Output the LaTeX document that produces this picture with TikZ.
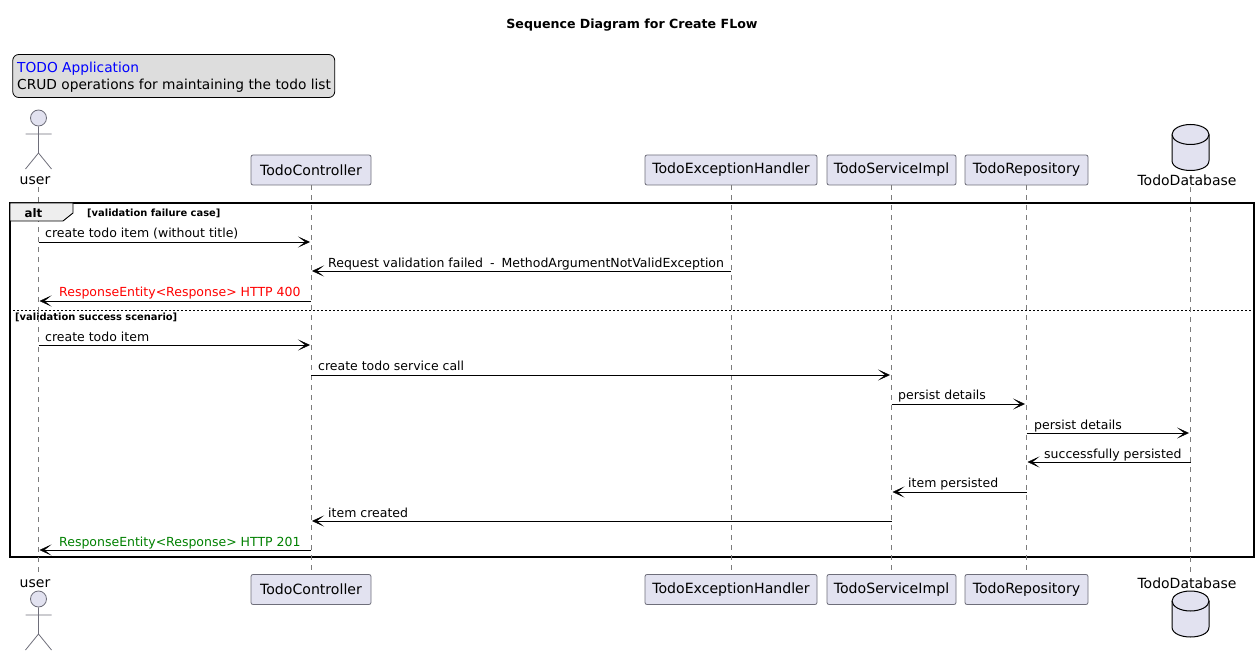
\documentclass[tikz,border=0pt]{standalone}
\usepackage{fontspec}
\setmainfont{DejaVu Sans}
\usetikzlibrary{positioning, arrows.meta, shapes.geometric}
\definecolor{partfill}{HTML}{E2E2F0}
\definecolor{partline}{HTML}{6E6E7A}
\definecolor{lifegray}{HTML}{7C7C7C}
\definecolor{legendfill}{HTML}{DDDDDD}
\definecolor{tabfill}{HTML}{EEEEEE}
\definecolor{okgreen}{HTML}{008000}
\tikzset{
  participant/.style={draw=partline, fill=partfill, rounded corners=2pt, line width=.8pt,
                      minimum height=30pt, inner sep=0pt, font=\fontsize{14.1}{16}\selectfont},
  actorlabel/.style={inner sep=0pt, font=\fontsize{14}{16}\selectfont},
  lifeline/.style={draw=lifegray, line width=.7pt, dash pattern=on 5pt off 5pt},
  msg/.style={-{Stealth[length=12pt,width=11pt,inset=7pt,line width=.4pt]}, line width=.9pt, black},
  msglabel/.style={inner sep=0pt, anchor=base west, font=\fontsize{12.5}{14}\selectfont},
  condlabel/.style={inner sep=0pt, anchor=base west, font=\fontsize{9.9}{12}\bfseries\selectfont}
}
\begin{document}
\begin{tikzpicture}[x=1pt, y=-1pt]
  \useasboundingbox (0,0) rectangle (1259,655);

  % title and legend
  \node[inner sep=0pt, font=\fontsize{12.6}{15}\bfseries\selectfont] (title) at (632,25.5) {Sequence Diagram for Create FLow};
  \node[draw=black, fill=legendfill, rounded corners=6pt, line width=.8pt, minimum width=322pt, minimum height=43pt,
        inner sep=0pt] (legend) at (173.75,76) {};
  \node[msglabel, font=\fontsize{13.75}{16}\selectfont, blue] (legendA) at (17,73) {TODO Application};
  \node[msglabel, font=\fontsize{13.75}{16}\selectfont] (legendB) at (17,90) {CRUD operations for maintaining the todo list};

  % frame first, the lifelines run over it
  \node[draw=black, line width=2pt, minimum width=1244pt, minimum height=354pt, inner sep=0pt] (frame) at (632,380) {};
  \node[condlabel] (cond1) at (87,217) {[validation failure case]};
  \draw[black, line width=.7pt, dash pattern=on 2pt off 2pt] (frame.west |- 0,310) -- (frame.east |- 0,310);
  \node[condlabel] (cond2) at (15,320.5) {[validation success scenario]};

  % participants, top row
  \node[actorlabel] (userT) at (35,180.5) {user};
  \node[participant, minimum width=120pt] (ctrlT) at (311,170) {TodoController};
  \node[participant, minimum width=172pt] (exhT) at (731,170) {TodoExceptionHandler};
  \node[participant, minimum width=129pt] (svcT) at (891.5,170) {TodoServiceImpl};
  \node[participant, minimum width=123pt] (repoT) at (1026.5,170) {TodoRepository};
  \node[actorlabel] (dbT) at (1187,180.5) {TodoDatabase};

  % participants, bottom row
  \node[actorlabel] (userB) at (35,583.5) {user};
  \node[participant, minimum width=120pt] (ctrlB) at (311,589.5) {TodoController};
  \node[participant, minimum width=172pt] (exhB) at (731,589.5) {TodoExceptionHandler};
  \node[participant, minimum width=129pt] (svcB) at (891.5,589.5) {TodoServiceImpl};
  \node[participant, minimum width=123pt] (repoB) at (1026.5,589.5) {TodoRepository};
  \node[actorlabel] (dbB) at (1187,583.5) {TodoDatabase};

  % lifelines
  \coordinate (userS) at (38.5,187);
  \coordinate (userE) at (38.5,572);
  \coordinate (dbS) at (1190.5,187);
  \coordinate (dbE) at (1190.5,572);
  \draw[lifeline] (userS) -- (userE);
  \draw[lifeline] (dbS) -- (dbE);
  \foreach \p in {ctrl, exh, svc, repo}
    \draw[lifeline] (\p T.south) -- (\p B.north);

  % the tab hides the lifeline
  \draw[draw=black, fill=tabfill, line width=.9pt] (10,203) -- (73,203) -- (73,213) -- (63,221) -- (10,221) -- cycle;
  \node[inner sep=0pt, anchor=base, font=\fontsize{11.8}{14}\bfseries\selectfont] (alt) at (33.5,217.5) {alt};

  % actors
  \foreach \n/\y in {A/118, B/599} {
    \node[circle, draw=partline, fill=partfill, line width=.8pt, minimum size=16pt, inner sep=0pt] (head\n) at (38.5,\y) {};
    \coordinate (arml\n) at (25.5,\y+16);
    \coordinate (armr\n) at (51.5,\y+16);
    \coordinate (hip\n) at (38.5,\y+35);
    \coordinate (legl\n) at (25.5,\y+51);
    \coordinate (legr\n) at (51.5,\y+51);
    \draw[partline, line width=.8pt] (head\n.south) -- (hip\n) -- (legl\n) (hip\n) -- (legr\n) (arml\n) -- (armr\n);
  }

  % databases
  \foreach \n/\y in {A/124.5, B/591} {
    \draw[black, fill=partfill, line width=1pt]
      (1172,\y+10) arc[start angle=180, end angle=0, x radius=18.5pt, y radius=10pt]
      -- (1209,\y+36) .. controls (1209,\y+43) and (1199,\y+46) .. (1190.5,\y+46)
      .. controls (1182,\y+46) and (1172,\y+43) .. (1172,\y+36) -- cycle;
    \draw[black, line width=1pt] (1172,\y+10) arc[start angle=180, end angle=360, x radius=18.5pt, y radius=10pt];
  }

  % messages
  \foreach \m/\a/\b/\y in {m1/38.5/310/242, m2/731/312/271, m3/311/39.5/301,
                           m4/38.5/310/345, m5/311/890/375, m6/891.5/1025/404,
                           m7/1026.5/1189/433, m8/1190.5/1027.5/462, m9/1026.5/892.5/492,
                           m10/891.5/312/521, m11/311/39.5/550} {
    \coordinate (\m s) at (\a,\y);
    \coordinate (\m e) at (\b,\y);
    \draw[msg] (\m s) -- (\m e);
  }

  \node[msglabel] (l1) at (45,238) {create todo item (without title)};
  \node[msglabel] (l2) at (328,267.5) {Request validation failed\hspace{3pt} - \hspace{3pt}MethodArgumentNotValidException};
  \node[msglabel, red] (l3) at (59,296.5) {ResponseEntity<Response> HTTP 400};
  \node[msglabel] (l4) at (45,341.5) {create todo item};
  \node[msglabel] (l5) at (318,370.5) {create todo service call};
  \node[msglabel] (l6) at (898,399.5) {persist details};
  \node[msglabel] (l7) at (1034,429) {persist details};
  \node[msglabel] (l8) at (1044,458.5) {successfully persisted};
  \node[msglabel] (l9) at (908,487.5) {item persisted};
  \node[msglabel] (l10) at (328,517) {item created};
  \node[msglabel, okgreen] (l11) at (59,546) {ResponseEntity<Response> HTTP 201};
\end{tikzpicture}
\end{document}
